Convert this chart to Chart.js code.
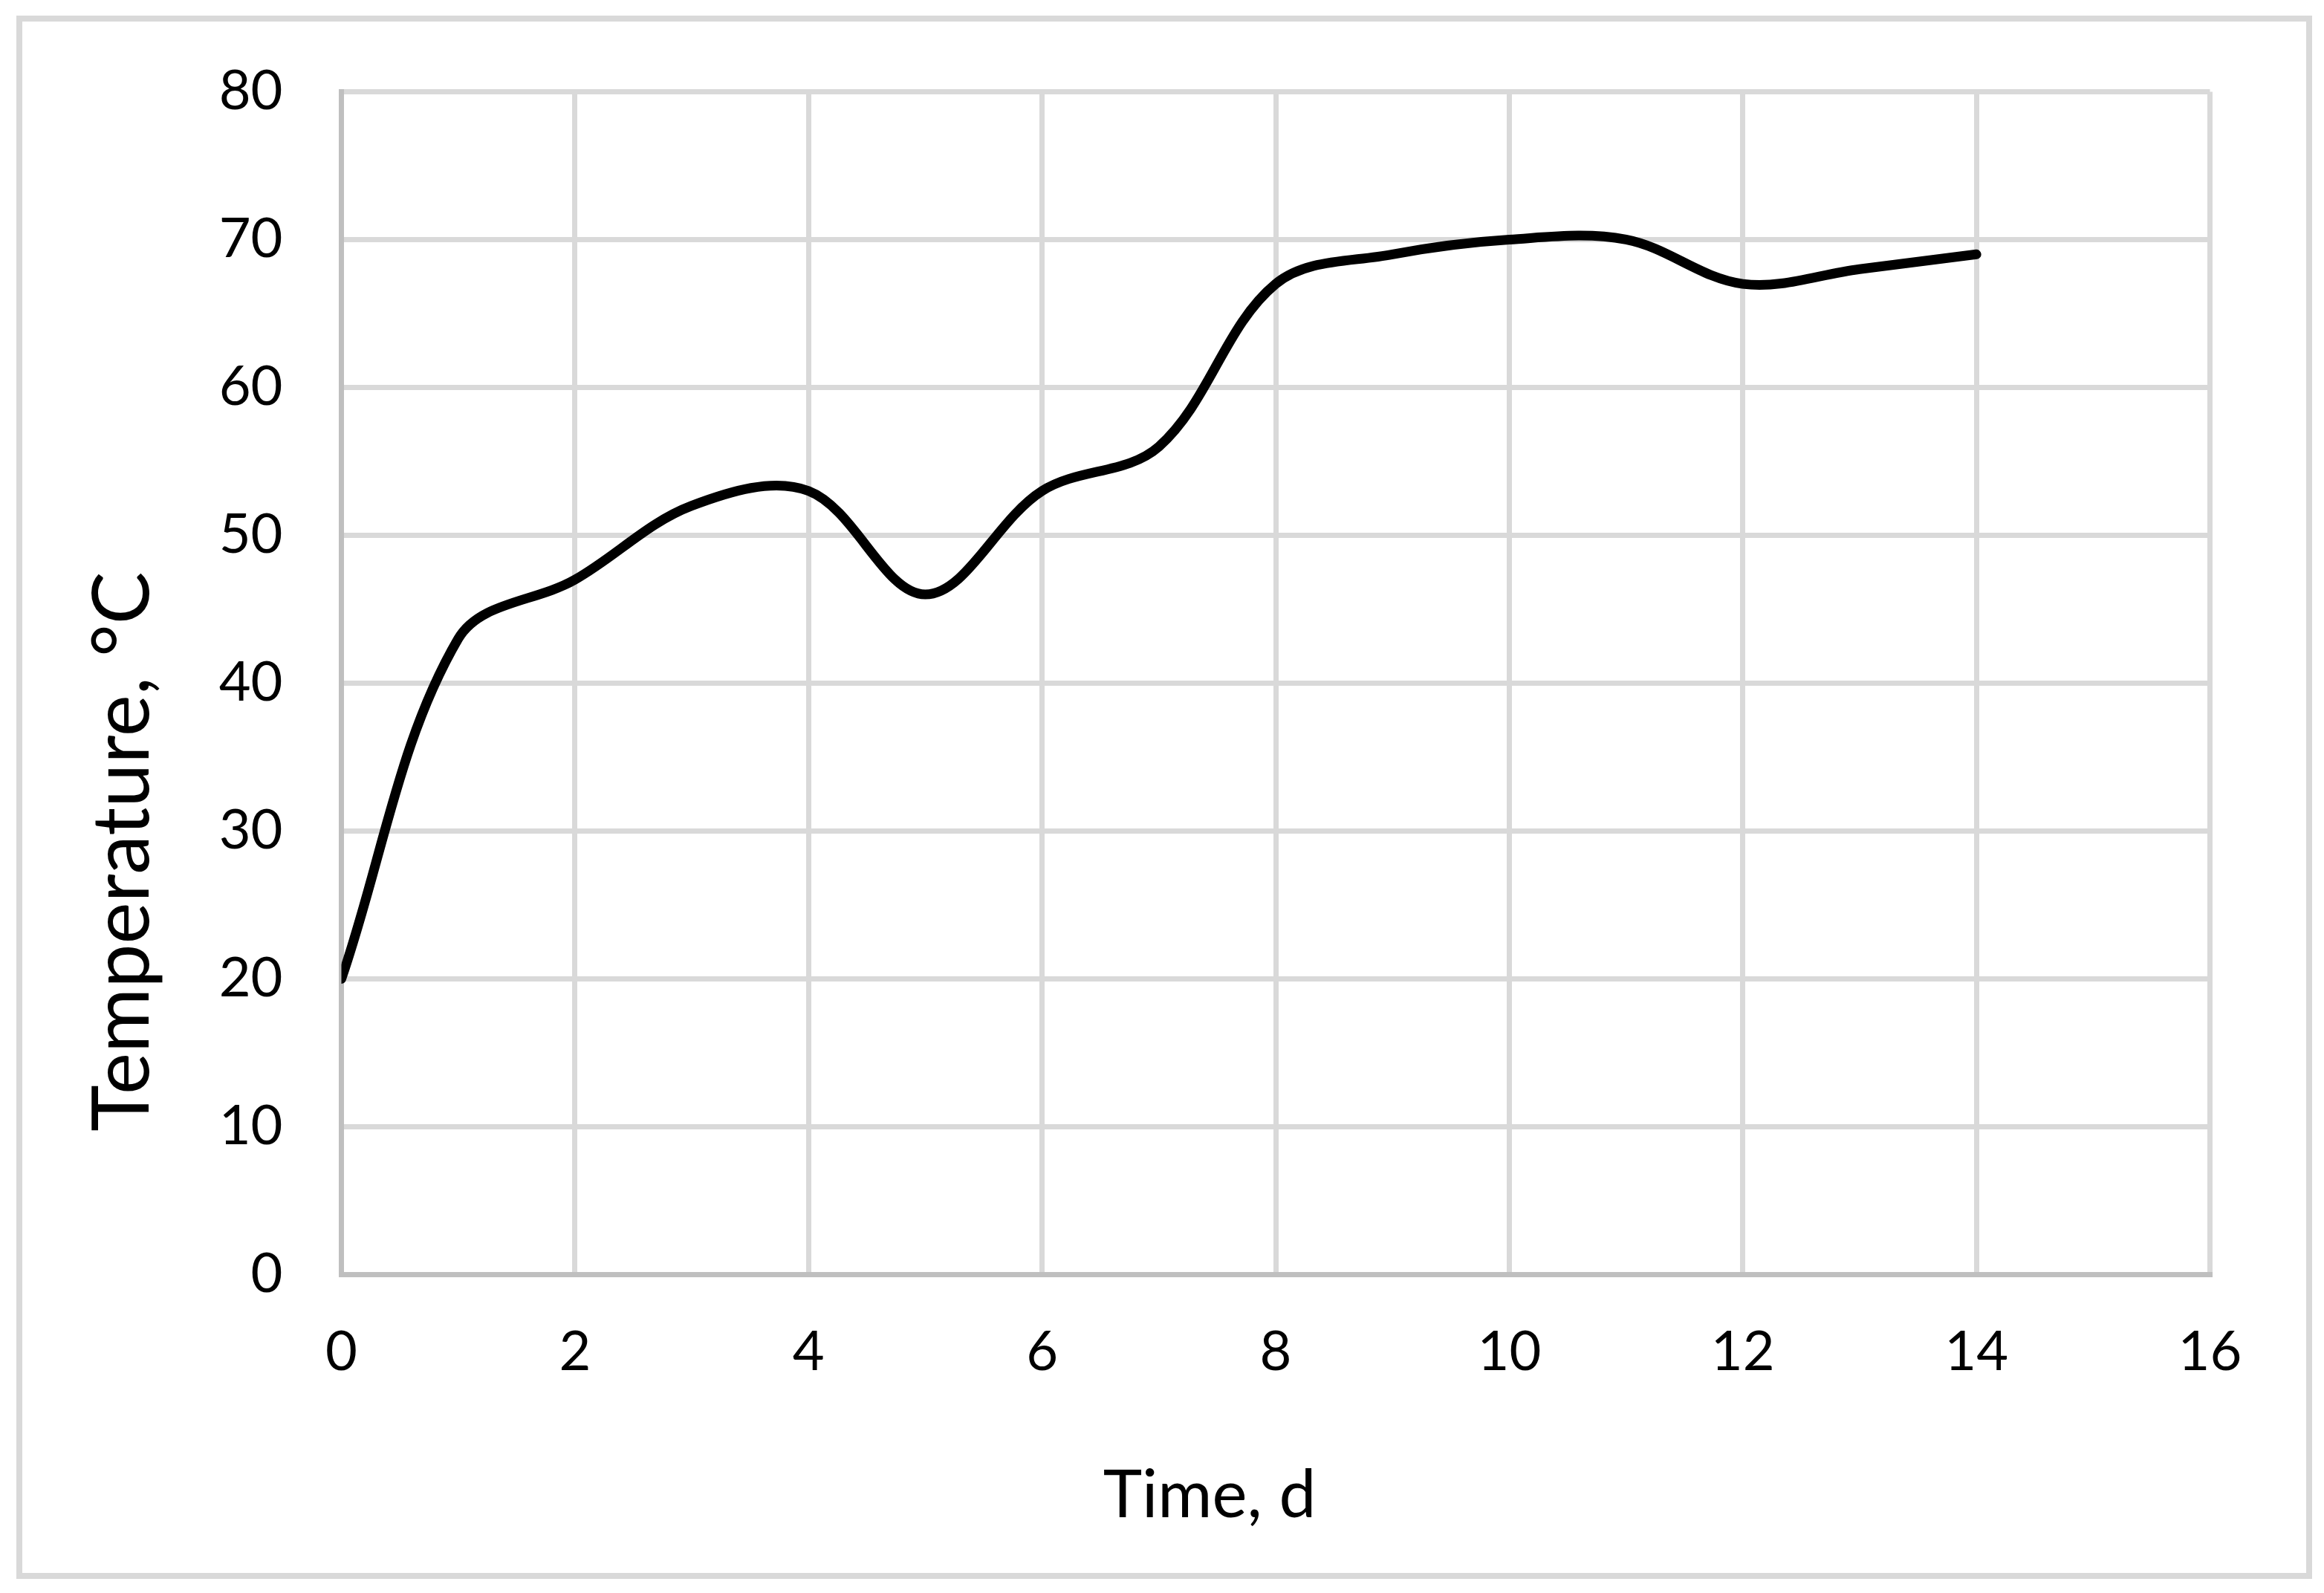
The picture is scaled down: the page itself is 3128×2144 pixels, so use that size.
<!DOCTYPE html>
<html>
<head>
<meta charset="utf-8">
<script src="https://cdn.jsdelivr.net/npm/chart.js@4.4.1/dist/chart.umd.min.js"></script>
<style>
    html, body { margin: 0; padding: 0; background: #ffffff; }
    canvas { display: block; }
</style>
</head>
<body>
<canvas id="chart" width="3128" height="2144"></canvas>
<script>
// values
const days = [0, 1, 2, 3, 4, 5, 6, 7, 8, 9, 10, 11, 12, 13, 14];
const temps = [20, 43, 47, 52, 53, 46, 53, 56, 67, 69, 70, 70, 67, 68, 69];
const xTicks = [0, 2, 4, 6, 8, 10, 12, 14, 16];
const yTicks = [0, 10, 20, 30, 40, 50, 60, 70, 80];
const xTitle = 'Time, d';
const yTitle = 'Temperature, °C';

const FONT = 'Lato, "Open Sans", sans-serif';

// outer frame + white background
const framePlugin = {
    id: 'frame',
    beforeDraw(chart) {
        const ctx = chart.ctx;
        ctx.save();
        ctx.fillStyle = '#ffffff';
        ctx.fillRect(0, 0, chart.width, chart.height);
        ctx.strokeStyle = '#d9d9d9';
        ctx.lineWidth = 8;
        ctx.strokeRect(26, 25, 3082, 2096);
        ctx.restore();
    }
};

// axis titles, placed like the Excel original (not centred on the plot)
const titlePlugin = {
    id: 'axisTitles',
    afterDraw(chart) {
        const ctx = chart.ctx;
        ctx.save();
        ctx.fillStyle = '#000000';
        ctx.textAlign = 'center';
        ctx.textBaseline = 'alphabetic';

        ctx.font = `89px ${FONT}`;
        ctx.fillText(xTitle, 1628, 2042);

        ctx.translate(200, 1146);
        ctx.rotate(-Math.PI / 2);
        ctx.font = `106px ${FONT}`;
        ctx.fillText(yTitle, 0, 0);
        ctx.restore();
    }
};

const ctx = document.getElementById('chart').getContext('2d');

new Chart(ctx, {
    type: 'line',
    data: {
        datasets: [
            {
                label: 'Temperature',
                data: days.map((d, i) => ({ x: d, y: temps[i] })),
                borderColor: '#000000',
                borderWidth: 13,
                borderCapStyle: 'round',
                borderJoinStyle: 'round',
                pointRadius: 0,
                tension: 0.35,
                fill: false,
            }
        ]
    },
    options: {
        responsive: false,
        animation: false,
        devicePixelRatio: 1,
        layout: {
            padding: { left: 0, right: 153.5, top: 113.5, bottom: 0 }
        },
        plugins: {
            legend: { display: false },
            tooltip: { enabled: false },
        },
        scales: {
            x: {
                type: 'linear',
                min: 0,
                max: 16,
                afterBuildTicks: scale => { scale.ticks = xTicks.map(v => ({ value: v })); },
                afterFit: scale => { scale.height = 428.5; },
                grid: {
                    color: '#d9d9d9',
                    lineWidth: 7,
                    drawTicks: false,
                },
                border: { color: '#bfbfbf', width: 7 },
                ticks: {
                    color: '#000000',
                    font: { family: FONT, size: 74 },
                    padding: 60,
                    maxRotation: 0,
                },
            },
            y: {
                min: 0,
                max: 80,
                afterBuildTicks: scale => { scale.ticks = yTicks.map(v => ({ value: v })); },
                afterFit: scale => { scale.width = 459.5; },
                grid: {
                    color: '#d9d9d9',
                    lineWidth: 7,
                    drawTicks: false,
                },
                border: { color: '#bfbfbf', width: 7 },
                ticks: {
                    color: '#000000',
                    font: { family: FONT, size: 74 },
                    padding: 79,
                },
            },
        },
    },
    plugins: [framePlugin, titlePlugin],
});
</script>
</body>
</html>
